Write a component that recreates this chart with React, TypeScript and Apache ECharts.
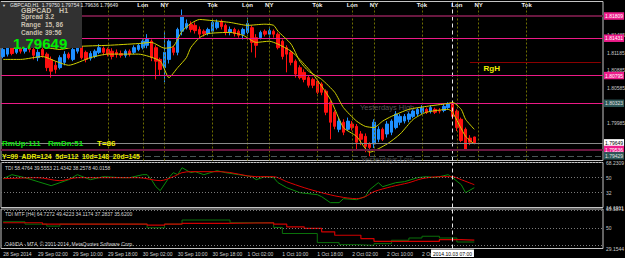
import React, { useEffect, useRef } from "react";
import * as echarts from "echarts";

const SLOTS = 138;
const tickStep = 8;
const timeTicks = [
  "28 Sep 2014", "29 Sep 02:00", "29 Sep 10:00", "29 Sep 18:00", "30 Sep 02:00",
  "30 Sep 10:00", "30 Sep 18:00", "1 Oct 02:00", "1 Oct 10:00", "1 Oct 18:00",
  "2 Oct 02:00", "2 Oct 10:00", "2 Oct",
];

// [open, close, low, high]
const candles = [
  [1.8112, 1.8124, 1.8109, 1.8129], [1.8116, 1.8127, 1.8112, 1.8133], [1.8127, 1.8117, 1.8114, 1.8131],
  [1.8119, 1.8129, 1.8116, 1.8133], [1.8129, 1.8121, 1.8117, 1.8134], [1.8121, 1.8133, 1.8117, 1.8138],
  [1.8133, 1.8124, 1.8119, 1.8136], [1.8124, 1.8114, 1.8107, 1.8127], [1.8110, 1.8119, 1.8104, 1.8124],
  [1.8124, 1.8114, 1.8110, 1.8129], [1.8116, 1.8093, 1.8087, 1.8119], [1.8107, 1.8087, 1.8076, 1.8112],
  [1.8097, 1.8090, 1.8083, 1.8104], [1.8093, 1.8110, 1.8090, 1.8114], [1.8102, 1.8116, 1.8097, 1.8121],
  [1.8116, 1.8110, 1.8107, 1.8119], [1.8107, 1.8124, 1.8104, 1.8127], [1.8121, 1.8133, 1.8117, 1.8136],
  [1.8129, 1.8110, 1.8107, 1.8133], [1.8119, 1.8107, 1.8102, 1.8122], [1.8109, 1.8117, 1.8105, 1.8121],
  [1.8112, 1.8121, 1.8109, 1.8124], [1.8119, 1.8127, 1.8116, 1.8133], [1.8126, 1.8119, 1.8114, 1.8129],
  [1.8124, 1.8116, 1.8112, 1.8127], [1.8121, 1.8112, 1.8107, 1.8126], [1.8119, 1.8116, 1.8110, 1.8124],
  [1.8117, 1.8114, 1.8110, 1.8122], [1.8114, 1.8121, 1.8110, 1.8124], [1.8121, 1.8116, 1.8112, 1.8124],
  [1.8119, 1.8127, 1.8116, 1.8131], [1.8124, 1.8131, 1.8121, 1.8134], [1.8127, 1.8138, 1.8124, 1.8141],
  [1.8131, 1.8141, 1.8126, 1.8150], [1.8138, 1.8110, 1.8104, 1.8141], [1.8127, 1.8104, 1.8073, 1.8131],
  [1.8107, 1.8090, 1.8080, 1.8110], [1.8093, 1.8119, 1.8068, 1.8155], [1.8107, 1.8138, 1.8100, 1.8141],
  [1.8127, 1.8119, 1.8114, 1.8131], [1.8119, 1.8158, 1.8114, 1.8161], [1.8155, 1.8180, 1.8148, 1.8192],
  [1.8161, 1.8168, 1.8158, 1.8175], [1.8167, 1.8158, 1.8153, 1.8172], [1.8165, 1.8156, 1.8151, 1.8170],
  [1.8158, 1.8150, 1.8144, 1.8163], [1.8155, 1.8151, 1.8146, 1.8158], [1.8151, 1.8158, 1.8148, 1.8161],
  [1.8155, 1.8170, 1.8151, 1.8175], [1.8161, 1.8170, 1.8158, 1.8175], [1.8172, 1.8163, 1.8158, 1.8175],
  [1.8165, 1.8153, 1.8148, 1.8168], [1.8153, 1.8158, 1.8148, 1.8163], [1.8158, 1.8151, 1.8146, 1.8161],
  [1.8155, 1.8148, 1.8144, 1.8158], [1.8150, 1.8158, 1.8141, 1.8161], [1.8153, 1.8168, 1.8150, 1.8178],
  [1.8161, 1.8136, 1.8119, 1.8165], [1.8144, 1.8131, 1.8110, 1.8150], [1.8144, 1.8153, 1.8141, 1.8156],
  [1.8155, 1.8150, 1.8146, 1.8158], [1.8150, 1.8156, 1.8144, 1.8160], [1.8155, 1.8150, 1.8144, 1.8158],
  [1.8150, 1.8127, 1.8124, 1.8153], [1.8138, 1.8112, 1.8107, 1.8141], [1.8127, 1.8116, 1.8085, 1.8131],
  [1.8119, 1.8102, 1.8097, 1.8122], [1.8104, 1.8082, 1.8076, 1.8107], [1.8093, 1.8076, 1.8073, 1.8097],
  [1.8085, 1.8073, 1.8068, 1.8090], [1.8076, 1.8063, 1.8059, 1.8080], [1.8073, 1.8063, 1.8058, 1.8076],
  [1.8070, 1.8051, 1.8048, 1.8073], [1.8065, 1.8051, 1.8046, 1.8068], [1.8053, 1.8017, 1.8012, 1.8056],
  [1.8034, 1.8000, 1.7971, 1.8037], [1.8017, 1.7993, 1.7988, 1.8020], [1.7988, 1.8002, 1.7983, 1.8008],
  [1.8000, 1.7983, 1.7978, 1.8005], [1.7988, 1.8002, 1.7985, 1.8008], [1.7997, 1.7991, 1.7986, 1.8002],
  [1.7993, 1.7966, 1.7951, 1.7997], [1.7980, 1.7971, 1.7961, 1.7985], [1.7976, 1.7959, 1.7949, 1.7981],
  [1.7963, 1.7957, 1.7942, 1.7966], [1.7963, 1.8000, 1.7956, 1.8005], [1.7971, 1.7988, 1.7966, 1.7993],
  [1.7988, 1.7971, 1.7968, 1.7991], [1.7980, 1.7997, 1.7974, 1.8002], [1.7983, 1.8002, 1.7978, 1.8005],
  [1.7991, 1.8014, 1.7988, 1.8019], [1.8000, 1.8010, 1.7995, 1.8014], [1.8002, 1.8010, 1.7998, 1.8014],
  [1.8005, 1.8014, 1.8000, 1.8017], [1.8010, 1.8019, 1.8007, 1.8022], [1.8014, 1.8022, 1.8010, 1.8025],
  [1.8017, 1.8025, 1.8014, 1.8029], [1.8022, 1.8017, 1.8014, 1.8025], [1.8019, 1.8025, 1.8015, 1.8029],
  [1.8022, 1.8017, 1.8014, 1.8025], [1.8020, 1.8019, 1.8015, 1.8024], [1.8020, 1.8027, 1.8017, 1.8031],
  [1.8025, 1.8032, 1.8022, 1.8034], [1.8031, 1.8010, 1.8005, 1.8034], [1.8019, 1.7991, 1.7985, 1.8022],
  [1.8005, 1.7969, 1.7966, 1.8008], [1.7988, 1.7954, 1.7951, 1.7991], [1.7973, 1.7966, 1.7961, 1.7978],
  [1.7975, 1.79649, 1.79636, 1.79754],
];

// envelope lines [bar, price]
const bandUpper = [
  [0, 1.8129], [8, 1.8129], [13, 1.8124], [17, 1.8129], [24, 1.8131], [31, 1.8134], [34, 1.8136],
  [37, 1.8126], [39, 1.8129], [41, 1.8155], [43, 1.8168], [45, 1.8175], [48, 1.8173], [52, 1.817],
  [56, 1.8165], [60, 1.8167], [62, 1.8165], [63, 1.8155], [66, 1.8133], [68, 1.8104], [70, 1.8087],
  [73, 1.8073], [76, 1.8051], [78, 1.8025], [81, 1.8002], [83, 1.7993], [85, 1.7991], [87, 1.8002],
  [89, 1.801], [93, 1.8022], [97, 1.8027], [102, 1.8032], [103, 1.8034], [105, 1.8022], [106, 1.8005],
  [108, 1.7988],
];
const bandLower = [
  [0, 1.8107], [4, 1.8107], [9, 1.8112], [12, 1.8104], [15, 1.8097], [20, 1.811], [24, 1.8116],
  [31, 1.8116], [36, 1.8104], [38, 1.8076], [40, 1.8093], [42, 1.811], [43, 1.8127], [45, 1.8144],
  [47, 1.8151], [52, 1.8153], [55, 1.8148], [58, 1.8136], [61, 1.8138], [63, 1.8133], [66, 1.8121],
  [68, 1.8107], [71, 1.8082], [75, 1.8039], [78, 1.7991], [81, 1.7976], [84, 1.7949], [88, 1.7963],
  [91, 1.798], [94, 1.8005], [97, 1.8017], [102, 1.8022], [103, 1.8017], [106, 1.7976], [108, 1.7963],
];

const tdiGreen = [
  [0, 48.8], [2, 53.6], [5, 50], [8, 45.2], [11, 40.4], [13, 44], [15, 47.6], [17, 53.6], [20, 47.6],
  [23, 51.2], [27, 50], [29, 50], [32, 53.6], [33, 53.6], [34, 47.6], [35, 39.2], [36, 34.4], [38, 50],
  [39, 56], [40, 53.6], [41, 62], [43, 56], [44, 57.2], [46, 53.6], [49, 58.4], [51, 56], [54, 53.6],
  [57, 51.2], [58, 47.6], [60, 51.2], [62, 50], [63, 44], [65, 38], [68, 32], [72, 29.6], [73, 27.2],
  [75, 20], [77, 20], [78, 24.8], [81, 23.6], [83, 27.2], [84, 35.6], [86, 44], [87, 39.2], [90, 44],
  [92, 45.2], [95, 50], [97, 51.2], [99, 50], [101, 52.4], [102, 53.6], [103, 50], [105, 41.6],
  [106, 32], [108, 38],
];
const tdiRed = [
  [0, 48.8], [8, 50], [13, 46.4], [17, 50], [27, 50], [31, 50], [36, 46.4], [39, 51.2], [41, 56],
  [43, 57.2], [50, 57.2], [58, 51.2], [62, 51.2], [65, 45.2], [69, 38], [73, 32], [77, 27.2],
  [81, 24.8], [83, 27.2], [85, 33.2], [89, 39.2], [93, 44], [96, 48.8], [100, 51.2], [103, 51.2],
  [105, 47.6], [108, 41.6],
];
const mtfGreen = [
  [0, 56.5], [5, 54.1], [10, 52.1], [13, 54.1], [33, 50.3], [37, 54.1], [41, 58.3], [52, 55.5],
  [62, 50.7], [64, 44.5], [72, 35.2], [77, 33.1], [81, 32.4], [85, 34.1], [89, 37.6], [93, 39.9],
  [96, 41.7], [100, 39.9], [104, 35.8], [108, 35.8],
];
const mtfRed = [
  [0, 55.5], [9, 54.1], [33, 53.1], [37, 54.1], [41, 54.9], [51, 55.5], [62, 54.1], [65, 51.3],
  [69, 49.7], [73, 46.2], [76, 42.7], [82, 39.3], [85, 36.5], [100, 38.3], [105, 37.7], [108, 37.7],
];

const priceTicks = [1.81485, 1.81185, 1.80885, 1.80585, 1.79985];
const levelTop = 1.81809;
const levelR1 = 1.81431;
const levelRgH = 1.81019;
const levelR2 = 1.80795;
const yesterdayHigh = 1.80323;
const bidPrice = 1.79649;
const levelS1 = 1.79536;
const yesterdayLow = 1.79429;

const sessionLines = [24, 32, 37, 48, 56, 61, 72, 80, 85, 96, 104, 109, 120];
const sessionLabels: [string, number][] = [
  ["Lon", 32], ["NY", 37], ["Tok", 48], ["Lon", 56], ["NY", 61], ["Tok", 72], ["Lon", 80],
  ["NY", 85], ["Tok", 96], ["Lon", 104], ["NY", 109], ["Tok", 120],
];
const separatorBar = 103;
const separatorTime = "2014.10.03 07:00";

const tdiRange = [14.1911, 68.2309];
const tdiLevels = [68, 50, 32];
const mtfRange = [29.1544, 69.5871];
const mtfLevels = [68, 50, 32];

const FONT = '"Liberation Sans", Arial, sans-serif';
const cats = Array.from({ length: SLOTS }, (_, i) => String(i));
const HIDDEN = { color: "rgba(0,0,0,0)", width: 0 };

const tag = (v: number, bg: string, fg: string) => ({
  show: true, position: "end", distance: 1, formatter: v.toFixed(5),
  backgroundColor: bg, color: fg, fontSize: 5, fontFamily: FONT, padding: [1.5, 1, 1, 1],
});

const gridBase = { left: 1, right: 22, show: true, borderColor: "#c4c4c4", borderWidth: 1, backgroundColor: "transparent" };
const xBase = {
  type: "category", data: cats, boundaryGap: true,
  axisLine: { show: false }, axisTick: { show: false }, axisLabel: { show: false }, splitLine: { show: false },
};
const yBase = { type: "value", position: "right", axisLine: { show: false }, axisTick: { show: false }, axisLabel: { show: false }, splitLine: { show: false } };

const sepLine = (withLabel: boolean) => ({
  xAxis: separatorBar,
  lineStyle: { color: "#e8e8e8", type: [4, 3], width: 1 },
  label: withLabel
    ? { show: true, position: "start", distance: 1, formatter: separatorTime, backgroundColor: "#ffffff", color: "#000", fontSize: 5, fontFamily: FONT, padding: [1.5, 2, 1, 2] }
    : { show: false },
});

const sideLabel = (v: number, text: string, pad: number[]) => ({
  yAxis: v, lineStyle: HIDDEN,
  label: { show: true, position: "end", distance: 3, formatter: text, color: "#c8c8c8", fontSize: 5, fontFamily: FONT, padding: pad },
});

const ML = { silent: true, symbol: ["none", "none"], animation: false, precision: 6, label: { show: false } };

const txt = (x: number, y: number, text: string, fill: string, fontSize: number, bold = false) => ({
  type: "text", x, y, z: 101,
  style: { text, fill, fontSize, fontWeight: bold ? "bold" : "normal", fontFamily: FONT, verticalAlign: "middle" },
});

function buildOption() {
  const beige = "#c9c0b0";
  return {
    backgroundColor: "#000000",
    animation: false,
    grid: [
      { ...gridBase, top: 1.5, height: 159 },
      { ...gridBase, top: 162.5, height: 45 },
      { ...gridBase, top: 209, height: 39.5 },
    ],
    xAxis: [
      { ...xBase, gridIndex: 0 },
      { ...xBase, gridIndex: 1 },
      {
        ...xBase, gridIndex: 2,
        axisLabel: {
          show: true,
          interval: (i: number) => i % tickStep === 0 && i / tickStep < timeTicks.length,
          formatter: (_v: string, i: number) => timeTicks[i / tickStep] ?? "",
          color: "#d0d0d0", fontSize: 5, fontFamily: FONT, align: "left", margin: 2.5,
        },
      },
    ],
    yAxis: [
      { ...yBase, gridIndex: 0, min: 1.79349, max: 1.82056 },
      { ...yBase, gridIndex: 1, min: tdiRange[0], max: tdiRange[1] },
      { ...yBase, gridIndex: 2, min: mtfRange[0], max: mtfRange[1] },
    ],
    graphic: [
      { type: "rect", shape: { x: 0, y: 2, width: 82, height: 46 }, style: { fill: "#313131" }, z: 100 },
      txt(2, 5, "▼", "#d8d8d8", 4),
      txt(10, 5, "GBPCAD,H1  1.79750 1.79754 1.79636 1.79649", "#e8e8e8", 5),
      txt(21, 10.5, "GBPCAD    H1", beige, 7, true),
      txt(21, 16.5, "Spread", beige, 6.5, true),
      txt(45, 16.5, "3.2", beige, 6.5, true),
      txt(21, 24.5, "Range", beige, 6.5, true),
      txt(45, 24.5, "15, 86", beige, 6.5, true),
      txt(21, 32, "Candle", beige, 6.5, true),
      txt(45, 32, "39:56", beige, 6.5, true),
      txt(13, 43.5, "1.79649", "#00f000", 15, true),
      txt(2, 143.5, "RmUp:111", "#10e010", 8, true),
      txt(48, 143.5, "RmDn:51", "#10e010", 8, true),
      txt(97, 143.5, "T=86", "#f0f000", 8, true),
      txt(2, 156.5, "Y=99  ADR=124  5d=112  10d=148  20d=145", "#e8e800", 6.8, true),
      txt(5, 167.5, "TDI 58.4764 39.5553 21.4342 38.2578 40.0158", "#d8d8d8", 5),
      txt(5, 214, "TDI MTF [H4] 64.7272 49.4223 34.1174 37.2837 35.6200", "#d8d8d8", 5),
      txt(5, 243.5, "OANDA - MT4, © 2001-2014, MetaQuotes Software Corp.", "#d8d8d8", 5),
    ],
    series: [
      {
        type: "candlestick", name: "GBPCAD", xAxisIndex: 0, yAxisIndex: 0, data: candles, z: 3, barWidth: 3,
        itemStyle: { color: "#1e90ff", color0: "#ff1010", borderColor: "#1e90ff", borderColor0: "#ff1010", borderWidth: 1 },
        markLine: {
          ...ML,
          data: [
            ...sessionLines.map((i) => ({ xAxis: i, lineStyle: { color: "#6e6e00", type: [2, 2], width: 1 }, label: { show: false } })),
            sepLine(false),
          ],
        },
        markPoint: {
          silent: true, animation: false, symbol: "circle", symbolSize: 0,
          data: [
            ...sessionLabels.map(([name, i]) => ({
              coord: [i, 1.81988],
              label: { show: true, position: "inside", formatter: name, color: "#f0f0f0", fontSize: 6, fontWeight: "bold", fontFamily: FONT },
            })),
            { coord: [112, 1.80917], label: { show: true, position: "inside", formatter: "RgH", color: "#f0f000", fontSize: 8, fontWeight: "bold", fontFamily: FONT } },
            { coord: [88, 1.80254], label: { show: true, position: "inside", formatter: "Yesterdays High", color: "#555555", fontSize: 7.5, fontFamily: FONT } },
            { coord: [88, 1.79366], label: { show: true, position: "inside", formatter: "Yesterdays Low", color: "#444444", fontSize: 7.5, fontFamily: FONT } },
          ],
        },
      },
      {
        type: "line", name: "lower", xAxisIndex: 0, yAxisIndex: 0, data: bandLower, z: 4, symbol: "none", smooth: 0.2,
        lineStyle: { color: "#d0d000", width: 1 },
        markLine: {
          ...ML,
          data: priceTicks.map((v) => ({
            yAxis: v, lineStyle: HIDDEN,
            label: { show: true, position: "end", distance: 4, formatter: v.toFixed(5), color: "#c8c8c8", fontSize: 5, fontFamily: FONT },
          })),
        },
      },
      {
        type: "line", name: "upper", xAxisIndex: 0, yAxisIndex: 0, data: bandUpper, z: 5, symbol: "none", smooth: 0.2,
        lineStyle: { color: "#d0d000", width: 1 },
        markLine: {
          ...ML,
          data: [
            { yAxis: levelTop, lineStyle: { color: "#6a1840", width: 2, type: "solid" }, label: tag(levelTop, "#ee1c8a", "#ffffff") },
            { yAxis: levelR1, lineStyle: { color: "#ec1a86", width: 1, type: "solid" }, label: tag(levelR1, "#ee1c8a", "#ffffff") },
            { yAxis: levelR2, lineStyle: { color: "#ec1a86", width: 1, type: "solid" }, label: tag(levelR2, "#ee1c8a", "#ffffff") },
            { yAxis: yesterdayHigh, lineStyle: { color: "#ec1a86", width: 1, type: "solid" }, label: tag(yesterdayHigh, "#2c5656", "#e0e0e0") },
            { yAxis: bidPrice, lineStyle: { color: "#8a8a8a", width: 1, type: "solid" }, label: tag(bidPrice, "#ffffff", "#000000") },
            { yAxis: levelS1, lineStyle: { color: "#6a1840", width: 2, type: "solid" }, label: tag(levelS1, "#ee1c8a", "#ffffff") },
            { yAxis: yesterdayLow, lineStyle: { color: "#4a5656", width: 1, type: [6, 3] }, label: tag(yesterdayLow, "#2c5656", "#e0e0e0") },
            [
              { coord: [107, levelRgH], lineStyle: { color: "#8a0000", width: 1, type: "solid" }, label: { show: false } },
              { coord: [SLOTS - 1, levelRgH] },
            ],
          ],
        },
      },
      {
        type: "line", name: "tdiGreen", xAxisIndex: 1, yAxisIndex: 1, data: tdiGreen, symbol: "none", z: 3,
        lineStyle: { color: "#0a8c0a", width: 1 },
        markLine: {
          ...ML,
          data: [
            ...tdiLevels.map((v) => ({ yAxis: v, lineStyle: { color: "#7a7a7a", type: [1, 2], width: 1 }, label: { show: v !== 68, position: "end", distance: 3, formatter: String(v), color: "#c8c8c8", fontSize: 5, fontFamily: FONT } })),
            sideLabel(tdiRange[1], tdiRange[1].toFixed(4), [7, 0, 0, 0]),
            sideLabel(tdiRange[0], tdiRange[0].toFixed(4), [0, 0, 10, 0]),
            sepLine(false),
          ],
        },
      },
      { type: "line", name: "tdiRed", xAxisIndex: 1, yAxisIndex: 1, data: tdiRed, symbol: "none", smooth: 0.3, z: 4, lineStyle: { color: "#e00000", width: 1 } },
      {
        type: "line", name: "mtfGreen", xAxisIndex: 2, yAxisIndex: 2, data: mtfGreen, symbol: "none", step: "end", z: 3,
        lineStyle: { color: "#0a700a", width: 1 },
        markLine: {
          ...ML,
          data: [
            ...mtfLevels.map((v) => ({ yAxis: v, lineStyle: { color: "#7a7a7a", type: [1, 2], width: 1 }, label: { show: v === 50, position: "end", distance: 3, formatter: String(v), color: "#c8c8c8", fontSize: 5, fontFamily: FONT } })),
            sideLabel(mtfRange[1], mtfRange[1].toFixed(4), [8, 0, 0, 0]),
            sideLabel(mtfRange[0], mtfRange[0].toFixed(4), [0, 0, 7, 0]),
            sepLine(true),
          ],
        },
      },
      { type: "line", name: "mtfRed", xAxisIndex: 2, yAxisIndex: 2, data: mtfRed, symbol: "none", step: "end", z: 4, lineStyle: { color: "#d00000", width: 1.2 } },
    ],
  };
}

export default function App() {
  const ref = useRef<HTMLDivElement>(null);
  useEffect(() => {
    if (!ref.current) return;
    const chart = echarts.init(ref.current, undefined, { renderer: "svg" });
    chart.setOption(buildOption() as any);
    return () => chart.dispose();
  }, []);
  return (
    <div
      ref={ref}
      style={{ position: "fixed", left: 0, top: 0, width: 625, height: 258, background: "#000" }}
    />
  );
}
